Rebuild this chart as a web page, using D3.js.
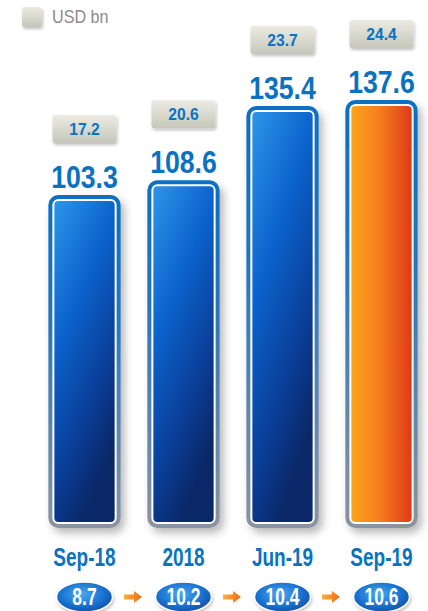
<!DOCTYPE html>
<html>
<head>
<meta charset="utf-8">
<script src="https://cdn.jsdelivr.net/npm/d3@7"></script>
<style>
  html, body { margin: 0; padding: 0; background: #fff; }
  svg { display: block; }
  text { font-family: "Liberation Sans", Arial, sans-serif; font-weight: bold; }
</style>
</head>
<body>
<div id="chart"></div>
<script>
// data
var categories = ["Sep-18", "2018", "Jun-19", "Sep-19"];
var totals = [103.3, 108.6, 135.4, 137.6];
var boxValues = [17.2, 20.6, 23.7, 24.4];
var ovalValues = [8.7, 10.2, 10.4, 10.6];
var legendLabel = "USD bn";

var width = 428, height = 611;
var svg = d3.select("#chart").append("svg")
  .attr("width", width)
  .attr("height", height);
var defs = svg.append("defs");

// gradients
function grad(id, x2, y2, stops) {
  var g = defs.append("linearGradient").attr("id", id)
    .attr("x1", "0%").attr("y1", "0%").attr("x2", x2).attr("y2", y2);
  g.selectAll("stop").data(stops).enter().append("stop")
    .attr("offset", function (d) { return d[0]; })
    .attr("stop-color", function (d) { return d[1]; });
}
grad("frameGrad", "0%", "100%", [["0%", "#0a6fc2"], ["35%", "#2275bd"], ["100%", "#8b93a0"]]);
grad("blueFill", "45%", "100%", [["0%", "#2d95e8"], ["40%", "#0b62cc"], ["75%", "#0a3e98"], ["100%", "#0a2868"]]);
grad("orangeFill", "100%", "0%", [["0%", "#fba51c"], ["50%", "#f57a1e"], ["100%", "#df3a17"]]);
grad("boxGrad", "0%", "100%", [["0%", "#ebebe3"], ["100%", "#c6c7ba"]]);
grad("arrowGrad", "100%", "0%", [["0%", "#fbb13a"], ["100%", "#f06a14"]]);
var rg = defs.append("radialGradient").attr("id", "ovalGrad")
  .attr("cx", "45%").attr("cy", "40%").attr("r", "70%");
rg.append("stop").attr("offset", "0%").attr("stop-color", "#4aa8f0");
rg.append("stop").attr("offset", "55%").attr("stop-color", "#1a74d2");
rg.append("stop").attr("offset", "100%").attr("stop-color", "#0c4596");

var shadow = defs.append("filter").attr("id", "shadow")
  .attr("x", "-30%").attr("y", "-30%").attr("width", "160%").attr("height", "160%");
shadow.append("feDropShadow").attr("dx", 4).attr("dy", 5)
  .attr("stdDeviation", 4).attr("flood-color", "#000").attr("flood-opacity", 0.28);
var smallShadow = defs.append("filter").attr("id", "smallShadow")
  .attr("x", "-30%").attr("y", "-30%").attr("width", "160%").attr("height", "160%");
smallShadow.append("feDropShadow").attr("dx", 1).attr("dy", 2)
  .attr("stdDeviation", 1.5).attr("flood-color", "#000").attr("flood-opacity", 0.25);

// scales
var x = d3.scaleBand()
  .domain(categories)
  .range([35, 431])
  .paddingInner(0.27)
  .paddingOuter(0.135);
var y = d3.scaleLinear()
  .domain([-17, 137.6])
  .range([528, 100]);
function cx(d) { return x(d) + x.bandwidth() / 2; }

// condensed text: squeeze horizontally
function place(px, py, sx) {
  return "translate(" + px + "," + py + ") scale(" + sx + ",1)";
}

// legend
svg.append("rect")
  .attr("x", 22).attr("y", 7)
  .attr("width", 20).attr("height", 20)
  .attr("rx", 3)
  .style("fill", "url(#boxGrad)")
  .attr("filter", "url(#smallShadow)");
svg.append("text")
  .attr("transform", place(52, 23, 0.85))
  .style("font-weight", "normal")
  .style("font-size", "19px")
  .style("fill", "#8a8a8a")
  .text(legendLabel);

// bars
var bars = svg.selectAll(".bar").data(categories).enter().append("g")
  .attr("class", "bar");

bars.append("rect")
  .attr("x", function (d) { return x(d) + 2; })
  .attr("y", function (d, i) { return y(totals[i]) + 2; })
  .attr("width", x.bandwidth() - 4)
  .attr("height", function (d, i) { return y(-17) - y(totals[i]) - 4; })
  .attr("rx", 8)
  .style("fill", "#fff")
  .style("stroke", "url(#frameGrad)")
  .style("stroke-width", 4)
  .attr("filter", "url(#shadow)");

bars.append("rect")
  .attr("x", function (d) { return x(d) + 6; })
  .attr("y", function (d, i) { return y(totals[i]) + 6; })
  .attr("width", x.bandwidth() - 12)
  .attr("height", function (d, i) { return y(-17) - y(totals[i]) - 12; })
  .attr("rx", 4)
  .style("fill", function (d, i) { return i == categories.length - 1 ? "url(#orangeFill)" : "url(#blueFill)"; });

// total labels
bars.append("text")
  .attr("transform", function (d, i) { return place(cx(d), y(totals[i]) - 7, 0.86); })
  .style("text-anchor", "middle")
  .style("font-size", "31px")
  .style("fill", "#0a72c0")
  .text(function (d, i) { return totals[i].toFixed(1); });

// gray boxes
bars.append("rect")
  .attr("x", function (d) { return cx(d) - 32; })
  .attr("y", function (d, i) { return y(totals[i]) - 80; })
  .attr("width", 64).attr("height", 28)
  .attr("rx", 3)
  .style("fill", "url(#boxGrad)")
  .attr("filter", "url(#smallShadow)");
bars.append("text")
  .attr("transform", function (d, i) { return place(cx(d), y(totals[i]) - 60, 0.92); })
  .style("text-anchor", "middle")
  .style("font-size", "17px")
  .style("fill", "#0a72c0")
  .text(function (d, i) { return boxValues[i].toFixed(1); });

// category labels
bars.append("text")
  .attr("transform", function (d) { return place(cx(d), 566, 0.76); })
  .style("text-anchor", "middle")
  .style("font-size", "25px")
  .style("fill", "#0a72c0")
  .text(function (d) { return d; });

// ovals
bars.append("ellipse")
  .attr("cx", cx)
  .attr("cy", 597)
  .attr("rx", 28).attr("ry", 15)
  .style("fill", "url(#ovalGrad)")
  .style("stroke", "#fff")
  .style("stroke-width", 1.5)
  .attr("filter", "url(#smallShadow)");
bars.append("text")
  .attr("transform", function (d) { return place(cx(d), 605, 0.76); })
  .style("text-anchor", "middle")
  .style("font-size", "23px")
  .style("fill", "#fff")
  .text(function (d, i) { return ovalValues[i].toFixed(1); });

// arrows between ovals
var arrowData = categories.slice(1);
svg.selectAll(".arrow").data(arrowData).enter().append("path")
  .attr("class", "arrow")
  .attr("transform", function (d) {
    return "translate(" + (x(d) - (x.step() - x.bandwidth()) / 2 - 1) + ",597)";
  })
  .attr("d", "M-9,-2.5 L1,-2.5 L1,-6 L9,0 L1,6 L1,2.5 L-9,2.5 Z")
  .style("fill", "url(#arrowGrad)");
</script>
</body>
</html>
